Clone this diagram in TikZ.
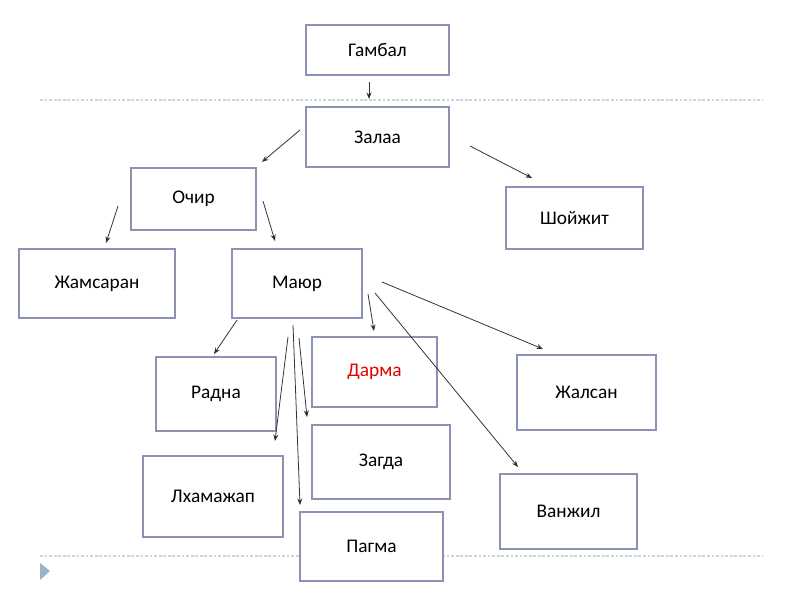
\documentclass[tikz,border=0pt]{standalone}
\usepackage{fontspec}
\setmainfont{Carlito}
\usetikzlibrary{arrows.meta}
\definecolor{boxLine}{RGB}{140,146,182}
\definecolor{sepLine}{RGB}{204,212,226}
\definecolor{markBlue}{RGB}{152,178,204}
\definecolor{nameRed}{RGB}{228,0,0}
\definecolor{arrGray}{RGB}{50,50,50}

\begin{document}
\begin{tikzpicture}[x=0.02cm,y=-0.02cm,
  pb/.style={draw=boxLine,fill=white,line width=0.8pt,inner sep=0pt,font=\fontsize{11}{13}\selectfont},
  ar/.style={-{Stealth[length=1.3mm,width=1mm]},line width=0.45pt,arrGray},
  sep/.style={sepLine,line width=0.6pt,dash pattern=on 1.6pt off 1pt}]
\useasboundingbox (0,0) rectangle (800,600);
% slide rules and bullet
\draw[sep] (40,100) -- (762,100);
\draw[sep] (40,556) -- (762,556);
\fill[markBlue] (40,563) -- (50,571) -- (40,580) -- cycle;
% family boxes
\node[pb,minimum width=2.86cm,minimum height=1.0cm] (gambal) at (377.5,50) {Гамбал};
\node[pb,minimum width=2.86cm,minimum height=1.2cm] (zalaa) at (377.5,137) {Залаа};
\node[pb,minimum width=2.5cm,minimum height=1.24cm] (ochir) at (193.5,199) {Очир};
\node[pb,minimum width=2.74cm,minimum height=1.24cm] (shoizhit) at (574.5,218) {Шойжит};
\node[pb,minimum width=3.12cm,minimum height=1.38cm] (zhamsaran) at (97,283.5) {Жамсаран};
\node[pb,minimum width=2.6cm,minimum height=1.38cm] (mayur) at (297,283.5) {Маюр};
\node[pb,minimum width=2.4cm,minimum height=1.48cm] (radna) at (216,394) {Радна};
\node[pb,minimum width=2.5cm,minimum height=1.4cm,text=nameRed] (darma) at (374.5,372) {Дарма};
\node[pb,minimum width=2.76cm,minimum height=1.48cm] (zagda) at (381,462) {Загда};
\node[pb,minimum width=2.78cm,minimum height=1.5cm] (zhalsan) at (586.5,392.5) {Жалсан};
\node[pb,minimum width=2.8cm,minimum height=1.62cm] (lkhamazhap) at (213,496.5) {Лхамажап};
\node[pb,minimum width=2.74cm,minimum height=1.5cm] (vanzhil) at (568.5,511.5) {Ванжил};
\node[pb,minimum width=2.86cm,minimum height=1.38cm] (pagma) at (371.5,546.5) {Пагма};
% arrow ends
\coordinate (g1) at (369,82);  \coordinate (z0) at (369,99);
\coordinate (z1) at (300,130); \coordinate (o0) at (262,162);
\coordinate (z2) at (470,146); \coordinate (s0) at (532,178);
\coordinate (o1) at (118,206); \coordinate (j0) at (106,243);
\coordinate (o2) at (263,201); \coordinate (m0) at (275,241);
\coordinate (m1) at (237,320); \coordinate (r0) at (214,354);
\coordinate (m2) at (288,337); \coordinate (l0) at (275,441);
\coordinate (m3) at (293,325); \coordinate (p0) at (300,505);
\coordinate (m4) at (299,338); \coordinate (zg0) at (307,417);
\coordinate (m5) at (368,294); \coordinate (d0) at (374,331);
\coordinate (m6) at (375,293); \coordinate (v0) at (518,467);
\coordinate (m7) at (382,282); \coordinate (zh0) at (543,349);
\foreach \a/\b in {g1/z0,z1/o0,z2/s0,o1/j0,o2/m0,m1/r0,m2/l0,m3/p0,m4/zg0,m5/d0,m6/v0,m7/zh0}
  \draw[ar] (\a) -- (\b);
\end{tikzpicture}
\end{document}
